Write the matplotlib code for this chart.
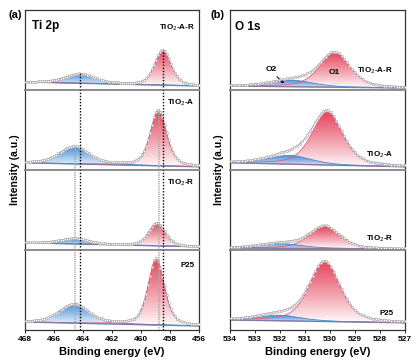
import numpy as np
import matplotlib.pyplot as plt
from matplotlib.patches import Polygon

plt.rcParams['font.family'] = ['Liberation Sans', 'DejaVu Sans']

# ---------------- data ----------------
samples = ["TiO$_2$-A-R", "TiO$_2$-A", "TiO$_2$-R", "P25"]

# Ti 2p : 2p3/2 (red) and 2p1/2 (blue) components
ti_pos_32 = [458.50, 458.80, 458.90, 458.95]
ti_amp_32 = [0.44, 0.70, 0.29, 0.83]
ti_pos_12 = [464.20, 464.60, 464.60, 464.60]
ti_amp_12 = [0.12, 0.22, 0.07, 0.24]
ti_fwhm = [1.3, 2.4]
ti_bg_left = [0.10, 0.09, 0.09, 0.10]    # background at 468 eV
ti_bg_right = [0.05, 0.04, 0.04, 0.05]   # background at 456 eV

# O 1s : O1 (lattice, red) and O2 (blue) components
o_pos_1 = [529.80, 530.10, 530.20, 530.20]
o_amp_1 = [0.43, 0.66, 0.28, 0.75]
o_pos_2 = [531.50, 531.60, 532.00, 532.00]
o_amp_2 = [0.08, 0.11, 0.06, 0.07]
o_fwhm = [1.45, 2.0]
o_bg_left = [0.05, 0.09, 0.025, 0.125]   # at 534 eV
o_bg_right = [0.025, 0.04, 0.013, 0.09]  # at 527 eV

ti_ticks = [468, 466, 464, 462, 460, 458, 456]
o_ticks = [534, 533, 532, 531, 530, 529, 528, 527]

RED = (0.90, 0.27, 0.36)
BLUE = (0.27, 0.56, 0.85)
RED_LINE = "#d9607c"
BLUE_LINE = "#4f86c6"
FRAME = "#333333"
SEP = "#888888"


def pvoigt(x, x0, amp, fwhm, eta=0.45):
    s = fwhm / 2.3548
    g = np.exp(-(x - x0) ** 2 / (2 * s * s))
    l = 1.0 / (1 + ((x - x0) / (fwhm / 2)) ** 2)
    return amp * ((1 - eta) * g + eta * l)


def grad_fill(ax, x, base, top, color):
    verts = np.vstack([np.column_stack([x, top]), np.column_stack([x[::-1], base[::-1]])])
    poly = Polygon(verts, closed=True, facecolor="none", edgecolor="none")
    ax.add_patch(poly)
    n = 200
    img = np.zeros((n, 2, 4))
    img[..., 0], img[..., 1], img[..., 2] = color
    alpha = np.linspace(1.0, 0.0, n) ** 0.9
    img[..., 3] = alpha[:, None]
    im = ax.imshow(img, extent=(x.min(), x.max(), base.min(), top.max()),
                   aspect="auto", origin="upper", zorder=1, interpolation="bilinear")
    im.set_clip_path(poly)


def draw_panel(ax, x, bg, comps, pts_step):
    env = bg.copy()
    for (x0, amp, fwhm, col, lcol) in comps:
        y = pvoigt(x, x0, amp, fwhm)
        grad_fill(ax, x, bg, bg + y, col)
        ax.plot(x, bg + y, color=lcol, lw=0.6, zorder=2)
        env = env + y
    ax.plot(x, bg, color=BLUE_LINE, lw=1.0, zorder=2)
    ax.plot(x, bg, color=RED_LINE, lw=0.5, zorder=2, alpha=0.7)
    ax.plot(x, env, color="#c07090", lw=0.5, zorder=3)
    ax.plot(x[::pts_step], env[::pts_step], "o", ms=1.6, mfc="white",
            mec="#b0b0b0", mew=0.5, zorder=4)


fig = plt.figure(figsize=(4.18, 3.62), dpi=100)
W, H = 418, 362
panel_h = 80 / H
bottom0 = 1 - 330 / H

axes_l, axes_r = [], []
for i in range(4):
    b = bottom0 + (3 - i) * panel_h
    axes_l.append(fig.add_axes([24.7 / W, b, 174.5 / W, panel_h]))
    axes_r.append(fig.add_axes([230 / W, b, 174.5 / W, panel_h]))

xt = np.linspace(456, 468, 600)
xo = np.linspace(527, 534, 600)

for i in range(4):
    ax = axes_l[i]
    bg = ti_bg_right[i] + (ti_bg_left[i] - ti_bg_right[i]) * (xt - 456) / 12
    draw_panel(ax, xt, bg, [(ti_pos_32[i], ti_amp_32[i], ti_fwhm[0], RED, RED_LINE),
                            (ti_pos_12[i], ti_amp_12[i], ti_fwhm[1], BLUE, BLUE_LINE)], 7)
    ax.set_xlim(468, 456)
    ax.set_ylim(0, 1)

    ax = axes_r[i]
    bg = o_bg_right[i] + (o_bg_left[i] - o_bg_right[i]) * (xo - 527) / 7
    draw_panel(ax, xo, bg, [(o_pos_1[i], o_amp_1[i], o_fwhm[0], RED, RED_LINE),
                            (o_pos_2[i], o_amp_2[i], o_fwhm[1], BLUE, BLUE_LINE)], 9)
    ax.set_xlim(534, 527)
    ax.set_ylim(0, 1)

# dotted reference lines in Ti 2p
dots = (0, (1, 1.2))
for i, ax in enumerate(axes_l):
    top_r = ti_amp_32[0] + 0.06 if i == 0 else 1
    top_b = ti_amp_12[0] + 0.09 if i == 0 else 1
    ax.axvline(ti_pos_32[0], ymax=top_r, color="black", ls=dots, lw=1.0, zorder=5)
    ax.axvline(ti_pos_12[0], ymax=top_b, color="black", ls=dots, lw=1.0, zorder=5)
    if i >= 1:
        top_r = ti_amp_32[1] + 0.05 if i == 1 else 1
        top_b = ti_amp_12[1] + 0.08 if i == 1 else 1
        for dx in (-0.04, 0.04):
            ax.axvline(ti_pos_32[1] + dx, ymax=top_r, color="#aaaaaa", ls=dots, lw=0.7, zorder=5)
            ax.axvline(ti_pos_12[1] - 0.05 + dx, ymax=top_b, color="#aaaaaa", ls=dots, lw=0.7, zorder=5)

for group, ticks in ((axes_l, ti_ticks), (axes_r, o_ticks)):
    for i, ax in enumerate(group):
        ax.set_yticks([])
        for s in ("left", "right"):
            ax.spines[s].set_color(FRAME)
            ax.spines[s].set_linewidth(0.9)
        ax.spines["top"].set_color(FRAME if i == 0 else SEP)
        ax.spines["top"].set_linewidth(0.9 if i == 0 else 1.3)
        ax.spines["bottom"].set_color(FRAME if i == 3 else SEP)
        ax.spines["bottom"].set_linewidth(0.9 if i == 3 else 1.3)
        if i < 3:
            ax.set_xticks([])
        else:
            ax.set_xticks(ticks)
            ax.tick_params(axis="x", length=2, width=0.6, pad=2.5, labelsize=6)
            for lb in ax.get_xticklabels():
                lb.set_fontweight("bold")
            ax.set_xlabel("Binding energy (eV)", fontsize=8, fontweight="bold", labelpad=3)

# sample labels
lab_y_l = [0.78, 0.84, 0.84, 0.81]
lab_y_r = [0.24, 0.19, 0.14, 0.21]
for i in range(4):
    axes_l[i].text(456.3, lab_y_l[i], samples[i], ha="right", va="center",
                   fontsize=5.8, fontweight="bold")
    axes_r[i].text(527.45, lab_y_r[i], samples[i], ha="right", va="center",
                   fontsize=5.8, fontweight="bold")

axes_l[0].text(467.5, 0.80, "Ti 2p", fontsize=8.5, fontweight="bold", va="center")
axes_r[0].text(533.8, 0.79, "O 1s", fontsize=8.5, fontweight="bold", va="center")
axes_r[0].text(529.8, 0.225, "O1", fontsize=6, fontweight="bold", ha="center", va="center")
axes_r[0].text(532.35, 0.26, "O2", fontsize=6, fontweight="bold", ha="center", va="center")
axes_r[0].annotate("", xy=(531.75, 0.06), xytext=(532.2, 0.19),
                   arrowprops=dict(arrowstyle="-|>", color="black", lw=0.7,
                                   mutation_scale=4))

fig.text(15 / W, 1 - 15 / H, "(a)", fontsize=8, fontweight="bold", ha="center", va="center")
fig.text(218 / W, 1 - 15 / H, "(b)", fontsize=8, fontweight="bold", ha="center", va="center")
fig.text(15 / W, 1 - 170 / H, "Intensity (a.u.)", rotation=90, fontsize=7.5,
         fontweight="bold", ha="center", va="center")
fig.text(219 / W, 1 - 170 / H, "Intensity (a.u.)", rotation=90, fontsize=7.5,
         fontweight="bold", ha="center", va="center")

fig.savefig("out.png", dpi=100)
